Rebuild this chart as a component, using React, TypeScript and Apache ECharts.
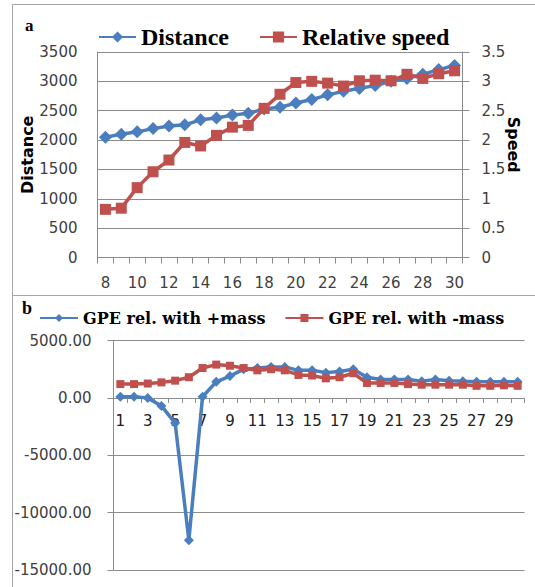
import React, { useEffect, useRef } from "react";
import * as echarts from "echarts";

// ---- Panel a data ----
const topCategories = ["8","9","10","11","12","13","14","15","16","17","18","19","20","21","22","23","24","25","26","27","28","29","30"];
const distance = [2050, 2100, 2140, 2195, 2240, 2260, 2345, 2375, 2425, 2455, 2530, 2560, 2630, 2690, 2770, 2830, 2880, 2930, 3000, 3050, 3120, 3200, 3270];
const relativeSpeed = [0.82, 0.84, 1.19, 1.46, 1.66, 1.96, 1.90, 2.08, 2.22, 2.25, 2.54, 2.78, 2.98, 3.0, 2.97, 2.92, 3.01, 3.02, 3.01, 3.12, 3.05, 3.13, 3.18];

// ---- Panel b data ----
const bottomCategories = ["1","2","3","4","5","6","7","8","9","10","11","12","13","14","15","16","17","18","19","20","21","22","23","24","25","26","27","28","29","30"];
const gpePlusMass = [100, 100, 0, -700, -2200, -12400, 100, 1400, 1900, 2500, 2600, 2700, 2700, 2400, 2400, 2200, 2300, 2500, 1800, 1600, 1600, 1600, 1450, 1600, 1500, 1450, 1400, 1400, 1400, 1400];
const gpeMinusMass = [1200, 1200, 1250, 1350, 1500, 1800, 2600, 2900, 2800, 2600, 2400, 2500, 2400, 2000, 1950, 1700, 1800, 2150, 1300, 1300, 1300, 1200, 1150, 1150, 1150, 1150, 1050, 1050, 1100, 1050];

const BLUE = "#4A7EBF";
const RED = "#C0504D";
const GRID = "#8C8C8C";
const LABEL = "#404040";
const SANS = "DejaVu Sans";

export default function App() {
  const ref = useRef<HTMLDivElement>(null);
  useEffect(() => {
    if (!ref.current) return;
    const chart = echarts.init(ref.current, undefined, { renderer: "svg" });
    const axisLabel = { fontFamily: SANS, fontSize: 15, color: LABEL };
    chart.setOption({
      animation: false,
      backgroundColor: "#ffffff",
      graphic: [
        { type: "line", shape: { x1: 12.5, y1: 4.5, x2: 535, y2: 4.5 }, style: { stroke: "#A6A6A6", lineWidth: 1 } },
        { type: "line", shape: { x1: 12.5, y1: 4.5, x2: 12.5, y2: 587 }, style: { stroke: "#A6A6A6", lineWidth: 1 } },
        { type: "line", shape: { x1: 12.5, y1: 295.5, x2: 535, y2: 295.5 }, style: { stroke: "#A6A6A6", lineWidth: 1 } },
        { type: "text", left: 25, top: 17, style: { text: "a", font: "bold 17px 'Liberation Serif'", fill: "#000" } },
        { type: "text", left: 22, top: 299, style: { text: "b", font: "bold 18px 'Liberation Serif'", fill: "#000" } },
      ],
      legend: [
        {
          data: ["Distance", "Relative speed"],
          left: 93, top: 20,
          itemWidth: 37, itemHeight: 14, itemGap: 30,
          textStyle: { fontFamily: "Liberation Serif", fontWeight: "bold", fontSize: 24, color: "#000" },
        },
        {
          data: ["GPE rel. with +mass", "GPE rel. with -mass"],
          left: 34, top: 305,
          itemWidth: 38, itemHeight: 10, itemGap: 19,
          textStyle: { fontFamily: "DejaVu Serif", fontWeight: "bold", fontSize: 16, color: "#000" },
        },
      ],
      grid: [
        { left: 97.5, top: 52, width: 365, height: 205.5 },
        { left: 113.5, top: 340.5, width: 411, height: 229.5 },
      ],
      xAxis: [
        {
          type: "category", gridIndex: 0, data: topCategories, boundaryGap: true,
          axisLine: { lineStyle: { color: GRID } },
          axisTick: { show: true, interval: 0, length: 6, lineStyle: { color: GRID } },
          axisLabel: { ...axisLabel, interval: 1, margin: 18 },
        },
        {
          type: "category", gridIndex: 1, data: bottomCategories, boundaryGap: true,
          position: "bottom", offset: -172.1,
          axisLine: { onZero: false, lineStyle: { color: GRID } },
          axisTick: { show: true, interval: 0, length: 5, lineStyle: { color: GRID } },
          axisLabel: { ...axisLabel, interval: 1, margin: 16, color: "#202020" },
        },
      ],
      yAxis: [
        {
          type: "value", gridIndex: 0, min: 0, max: 3500, interval: 500, position: "left",
          name: "Distance", nameLocation: "middle", nameGap: 62, nameMoveOverlap: false,
          nameTextStyle: { fontFamily: SANS, fontWeight: "bold", fontSize: 16, color: "#000" },
          axisLine: { show: true, lineStyle: { color: GRID } },
          axisTick: { show: false },
          axisLabel: { ...axisLabel, margin: 20, formatter: (v: number) => String(v) },
          splitLine: { show: true, lineStyle: { color: GRID, width: 1 } },
        },
        {
          type: "value", gridIndex: 0, min: 0, max: 3.5, interval: 0.5, position: "right",
          name: "Speed", nameLocation: "middle", nameGap: 43, nameRotate: -90, nameMoveOverlap: false,
          nameTextStyle: { fontFamily: SANS, fontWeight: "bold", fontSize: 16, color: "#000", padding: [0, 20, 0, 0] },
          axisLine: { show: true, lineStyle: { color: GRID } },
          axisTick: { show: true, length: 7, inside: false, lineStyle: { color: GRID } },
          axisLabel: { ...axisLabel, margin: 19, formatter: (v: number) => String(v) },
          splitLine: { show: false },
        },
        {
          type: "value", gridIndex: 1, min: -15000, max: 5000, interval: 5000,
          axisLine: { show: true, lineStyle: { color: GRID } },
          axisTick: { show: true, length: 6, lineStyle: { color: GRID } },
          axisLabel: { ...axisLabel, margin: 22, formatter: (v: number) => v.toFixed(2) },
          splitLine: { show: true, lineStyle: { color: GRID, width: 1 } },
        },
      ],
      series: [
        {
          name: "Distance", type: "line", xAxisIndex: 0, yAxisIndex: 0, data: distance,
          symbol: "diamond", symbolSize: 13, showAllSymbol: true, color: BLUE,
          lineStyle: { width: 3.5, color: BLUE }, itemStyle: { color: BLUE },
        },
        {
          name: "Relative speed", type: "line", xAxisIndex: 0, yAxisIndex: 1, data: relativeSpeed,
          symbol: "rect", symbolSize: 11, showAllSymbol: true, color: RED,
          lineStyle: { width: 3.5, color: RED }, itemStyle: { color: RED },
        },
        {
          name: "GPE rel. with +mass", type: "line", xAxisIndex: 1, yAxisIndex: 2, data: gpePlusMass,
          symbol: "diamond", symbolSize: 10, showAllSymbol: true, color: BLUE,
          lineStyle: { width: 3.5, color: BLUE }, itemStyle: { color: BLUE },
        },
        {
          name: "GPE rel. with -mass", type: "line", xAxisIndex: 1, yAxisIndex: 2, data: gpeMinusMass,
          symbol: "rect", symbolSize: 8, showAllSymbol: true, color: RED,
          lineStyle: { width: 3.5, color: RED }, itemStyle: { color: RED },
        },
      ],
    });
    return () => chart.dispose();
  }, []);
  return (
    <div
      ref={ref}
      style={{ position: "fixed", left: 0, top: 0, width: 535, height: 587, background: "#fff" }}
    />
  );
}
